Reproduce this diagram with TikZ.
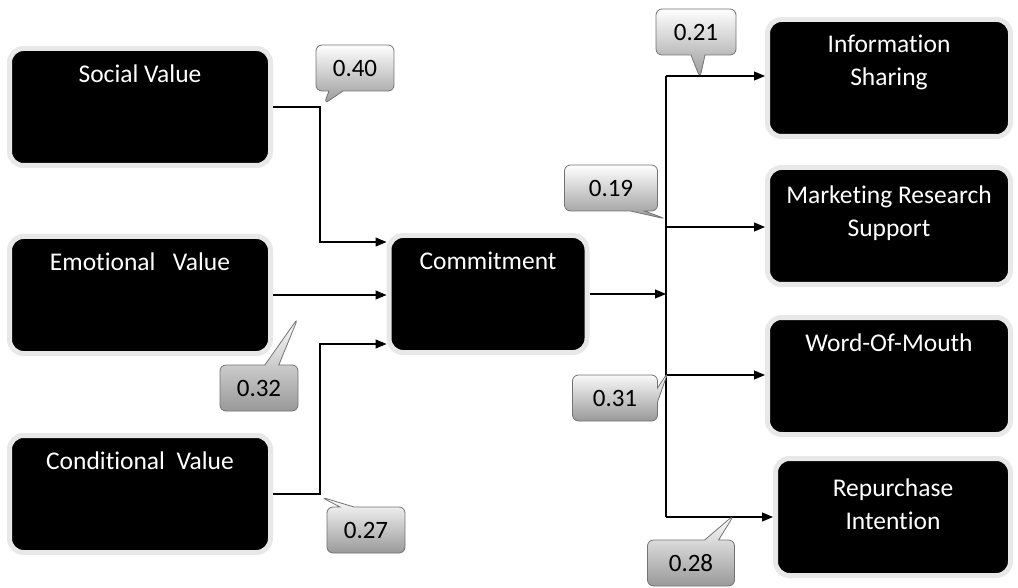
\documentclass[tikz,border=0pt]{standalone}
\usepackage{fontspec}
\setmainfont{Carlito}[Ligatures=CommonOff]
\usetikzlibrary{shapes,shapes.callouts,arrows.meta,positioning,calc}

\begin{document}
\begin{tikzpicture}[
    x=1pt, y=1pt,
    node distance=150pt,
    box/.style={rectangle, draw=black!9, line width=5pt, fill=black, minimum width=261pt, minimum height=117pt, rounded corners=14pt},
    boxtext/.style={text=white, font=\fontsize{25.5}{33}\selectfont, align=center, inner sep=0pt, anchor=north, yshift=-19pt},
    arrow/.style={-{Triangle[length=11pt,width=9pt]}, line width=1.1pt},
    value/.style={rectangle callout, draw=black!55, thick, top color=white, bottom color=black!40, minimum width=78pt, minimum height=46pt, rounded corners=6pt, font=\fontsize{25}{30}\selectfont, callout pointer width=14pt}
]
\useasboundingbox (0,0) rectangle (1018,-588);

% Value boxes on the left
\node[box, label={[boxtext, name=social-t]north:Social Value}] (social) at (140,-107) {};
\node[box, below of=social, node distance=188pt, label={[boxtext, name=emotional-t]north:Emotional\ \ \ Value}] (emotional) {};
\node[box, below of=emotional, node distance=199pt, label={[boxtext, name=conditional-t]north:Conditional\ \ Value}] (conditional) {};

% Commitment in the middle
\node[box, minimum width=198pt, label={[boxtext, name=commit-t]north:Commitment}] (commit) at (488,-294) {};

% Outcomes on the right
\node[box, minimum width=243pt, label={[boxtext, name=info-t, yshift=1pt]north:Information\\Sharing}] (info) at (889,-78) {};
\node[box, minimum width=243pt, below of=info, node distance=148pt, label={[boxtext, name=market-t, yshift=-2pt]north:Marketing Research\\Support}] (market) {};
\node[box, minimum width=243pt, below of=market, node distance=150pt, label={[boxtext, name=wom-t]north:Word-Of-Mouth}] (wom) {};
\node[box, minimum width=235pt, below of=wom, node distance=141pt, xshift=4pt, label={[boxtext, name=repurch-t, yshift=-4pt]north:Repurchase\\Intention}] (repurch) {};

% Paths into Commitment
\draw[arrow] (social.east) -- ++(47,0) |- ([yshift=52pt]commit.west);
\draw[arrow] (emotional.east) -- (emotional.east -| commit.west);
\draw[arrow] (conditional.east) -- ++(47,0) |- ([yshift=-50pt]commit.west);

% Paths out of Commitment
\coordinate (hub) at (666,-294);
\draw[arrow] (commit.east) -- (hub);
\draw[line width=1.1pt] ([yshift=2pt]hub |- info.west) -- (hub |- repurch.west);
\foreach \b/\s in {info/2,market/-1,wom/1,repurch/0}
    \draw[arrow] ([yshift=\s pt]hub |- \b.west) -- ([yshift=\s pt]\b.west);

% Path coefficients
\node[value, callout absolute pointer={(324,-104)}] (v40) at (355,-68) {0.40};
\node[value, callout absolute pointer={(298,-318)}] (v32) at (259,-388) {0.32};
\node[value, callout absolute pointer={(321,-497)}] (v27) at (366,-530) {0.27};
\node[value, minimum width=80pt, callout absolute pointer={(700,-78)}] (v21) at (696,-32) {0.21};
\node[value, minimum width=93pt, callout absolute pointer={(666,-219)}] (v19) at (611,-188) {0.19};
\node[value, minimum width=85pt, callout absolute pointer={(668,-372)}] (v31) at (615,-398) {0.31};
\node[value, minimum width=87pt, callout absolute pointer={(734,-515)}] (v28) at (691,-563) {0.28};

\end{tikzpicture}
\end{document}
